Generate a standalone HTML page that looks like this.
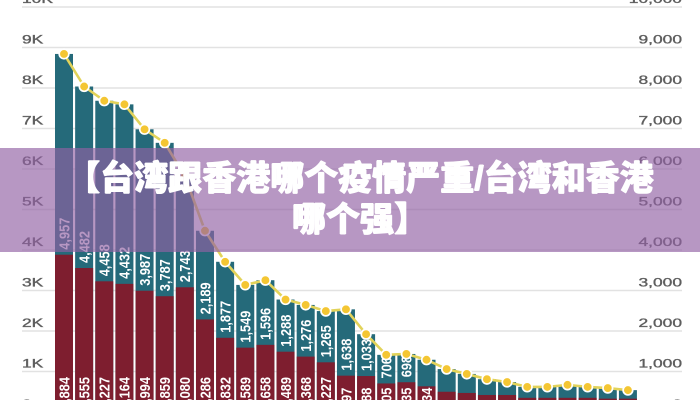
<!DOCTYPE html>
<html>
<head>
<meta charset="utf-8">
<style>
  html,body{margin:0;padding:0;background:#fff;}
  #wrap{position:relative;width:700px;height:400px;overflow:hidden;background:#fff;}
  svg{position:absolute;left:0;top:0;}
  #banner{position:absolute;left:0;top:148px;width:700px;height:104px;background:rgba(146,97,164,0.66);}
  #title{position:absolute;left:20px;right:0;top:148px;height:104px;display:flex;align-items:center;justify-content:center;text-align:center;
    font-family:"Liberation Sans","Noto Sans CJK SC",sans-serif;font-weight:900;font-size:34px;line-height:41px;color:#fff;white-space:nowrap;
    text-shadow:0.6px 0 0 #fff,-0.6px 0 0 #fff,0 0.5px 0 #fff,0 -0.5px 0 #fff;}
</style>
</head>
<body>
<div id="wrap">
<svg width="700" height="400" viewBox="0 0 700 400" xmlns="http://www.w3.org/2000/svg">
  <!-- gridlines -->
  <g stroke="#e2e2e2" stroke-width="1.5">
    <line x1="22" x2="682" y1="7" y2="7"/>
    <line x1="22" x2="682" y1="47.5" y2="47.5"/>
    <line x1="22" x2="682" y1="88" y2="88"/>
    <line x1="22" x2="682" y1="128.5" y2="128.5"/>
    <line x1="22" x2="682" y1="169" y2="169"/>
    <line x1="22" x2="682" y1="209.5" y2="209.5"/>
    <line x1="22" x2="682" y1="250" y2="250"/>
    <line x1="22" x2="682" y1="290.5" y2="290.5"/>
    <line x1="22" x2="682" y1="331" y2="331"/>
    <line x1="22" x2="682" y1="371.5" y2="371.5"/>
    <line x1="22" x2="682" y1="412" y2="412"/>
  </g>
  <!-- left axis labels -->
  <g font-family="Liberation Sans, sans-serif" font-size="12" fill="#5e5e5e" stroke="#5e5e5e" stroke-width="0.35">
    <text transform="translate(22,3) scale(1.45,1)">10K</text>
    <text transform="translate(22,43.5) scale(1.45,1)">9K</text>
    <text transform="translate(22,84) scale(1.45,1)">8K</text>
    <text transform="translate(22,124.5) scale(1.45,1)">7K</text>
    <text transform="translate(22,165) scale(1.45,1)">6K</text>
    <text transform="translate(22,205.5) scale(1.45,1)">5K</text>
    <text transform="translate(22,246) scale(1.45,1)">4K</text>
    <text transform="translate(22,286.5) scale(1.45,1)">3K</text>
    <text transform="translate(22,327) scale(1.45,1)">2K</text>
    <text transform="translate(22,367.5) scale(1.45,1)">1K</text>
    <text transform="translate(22,408) scale(1.45,1)">0</text>
  </g>
  <!-- right axis labels -->
  <g font-family="Liberation Sans, sans-serif" font-size="12" fill="#5e5e5e" stroke="#5e5e5e" stroke-width="0.35" text-anchor="end">
    <text transform="translate(682,3) scale(1.45,1)">10,000</text>
    <text transform="translate(682,43.5) scale(1.45,1)">9,000</text>
    <text transform="translate(682,84) scale(1.45,1)">8,000</text>
    <text transform="translate(682,124.5) scale(1.45,1)">7,000</text>
    <text transform="translate(682,165) scale(1.45,1)">6,000</text>
    <text transform="translate(682,205.5) scale(1.45,1)">5,000</text>
    <text transform="translate(682,246) scale(1.45,1)">4,000</text>
    <text transform="translate(682,286.5) scale(1.45,1)">3,000</text>
    <text transform="translate(682,327) scale(1.45,1)">2,000</text>
    <text transform="translate(682,367.5) scale(1.45,1)">1,000</text>
    <text transform="translate(682,408) scale(1.45,1)">0</text>
  </g>
  <!-- teal (full) bars -->
  <g fill="#256a7a">
    <rect x="55" y="53.94" width="18" height="358.06"/>
    <rect x="75.14" y="86.5" width="18" height="325.5"/>
    <rect x="95.28" y="100.76" width="18" height="311.24"/>
    <rect x="115.42" y="104.36" width="18" height="307.64"/>
    <rect x="135.56" y="129.27" width="18" height="282.73"/>
    <rect x="155.7" y="142.84" width="18" height="269.16"/>
    <rect x="175.84" y="176.17" width="18" height="235.83"/>
    <rect x="195.98" y="230.76" width="18" height="181.24"/>
    <rect x="216.12" y="261.79" width="18" height="150.21"/>
    <rect x="236.26" y="284.91" width="18" height="127.09"/>
    <rect x="256.4" y="280.21" width="18" height="131.79"/>
    <rect x="276.54" y="299.53" width="18" height="112.47"/>
    <rect x="296.68" y="304.92" width="18" height="107.08"/>
    <rect x="316.82" y="311.07" width="18" height="100.93"/>
    <rect x="336.96" y="309.33" width="18" height="102.67"/>
    <rect x="357.1" y="334.2" width="18" height="77.8"/>
    <rect x="377.24" y="354.85" width="18" height="57.15"/>
    <rect x="397.38" y="353.96" width="18" height="58.04"/>
    <rect x="417.52" y="359.75" width="18" height="52.25"/>
    <rect x="437.66" y="369.07" width="18" height="42.93"/>
    <rect x="457.8" y="373.93" width="18" height="38.07"/>
    <rect x="477.94" y="379.19" width="18" height="32.81"/>
    <rect x="498.08" y="382.03" width="18" height="29.97"/>
    <rect x="518.22" y="386.89" width="18" height="25.11"/>
    <rect x="538.36" y="386.89" width="18" height="25.11"/>
    <rect x="558.5" y="384.86" width="18" height="27.14"/>
    <rect x="578.64" y="386.89" width="18" height="25.11"/>
    <rect x="598.78" y="388.1" width="18" height="23.9"/>
    <rect x="618.92" y="390.13" width="18" height="21.87"/>
  </g>
  <!-- red bars -->
  <g fill="#7e1e2f">
    <rect x="55" y="254.7" width="18" height="157.3"/>
    <rect x="75.14" y="268.02" width="18" height="143.98"/>
    <rect x="95.28" y="281.31" width="18" height="130.69"/>
    <rect x="115.42" y="283.86" width="18" height="128.14"/>
    <rect x="135.56" y="290.74" width="18" height="121.26"/>
    <rect x="155.7" y="296.21" width="18" height="115.79"/>
    <rect x="175.84" y="287.26" width="18" height="124.74"/>
    <rect x="195.98" y="319.42" width="18" height="92.58"/>
    <rect x="216.12" y="337.8" width="18" height="74.2"/>
    <rect x="236.26" y="347.65" width="18" height="64.35"/>
    <rect x="256.4" y="344.85" width="18" height="67.15"/>
    <rect x="276.54" y="351.7" width="18" height="60.3"/>
    <rect x="296.68" y="356.6" width="18" height="55.4"/>
    <rect x="316.82" y="362.31" width="18" height="49.69"/>
    <rect x="336.96" y="375.67" width="18" height="36.33"/>
    <rect x="357.1" y="376.04" width="18" height="35.96"/>
    <rect x="377.24" y="383.45" width="18" height="28.55"/>
    <rect x="397.38" y="382.23" width="18" height="29.77"/>
    <rect x="417.52" y="386.32" width="18" height="25.68"/>
    <rect x="437.66" y="391.75" width="18" height="20.25"/>
    <rect x="457.8" y="392.96" width="18" height="19.04"/>
    <rect x="477.94" y="394.99" width="18" height="17.01"/>
    <rect x="498.08" y="394.99" width="18" height="17.01"/>
    <rect x="518.22" y="397.82" width="18" height="14.18"/>
    <rect x="538.36" y="397.82" width="18" height="14.18"/>
    <rect x="558.5" y="397.82" width="18" height="14.18"/>
    <rect x="578.64" y="397.82" width="18" height="14.18"/>
    <rect x="598.78" y="398.63" width="18" height="13.37"/>
    <rect x="618.92" y="398.63" width="18" height="13.37"/>
  </g>
  <!-- teal segment labels -->
  <g fill="#ffffff" font-family="Liberation Sans, sans-serif" font-weight="bold" font-size="12.8">
    <text dy="0.36em" transform="translate(64,249.7) scale(1.15,1) rotate(-90)">4,957</text>
    <text dy="0.36em" transform="translate(84.14,263.02) scale(1.15,1) rotate(-90)">4,482</text>
    <text dy="0.36em" transform="translate(104.28,276.31) scale(1.15,1) rotate(-90)">4,458</text>
    <text dy="0.36em" transform="translate(124.42,278.86) scale(1.15,1) rotate(-90)">4,432</text>
    <text dy="0.36em" transform="translate(144.56,285.74) scale(1.15,1) rotate(-90)">3,987</text>
    <text dy="0.36em" transform="translate(164.7,291.21) scale(1.15,1) rotate(-90)">3,787</text>
    <text dy="0.36em" transform="translate(184.84,282.26) scale(1.15,1) rotate(-90)">2,743</text>
    <text dy="0.36em" transform="translate(204.98,314.42) scale(1.15,1) rotate(-90)">2,189</text>
    <text dy="0.36em" transform="translate(225.12,332.8) scale(1.15,1) rotate(-90)">1,877</text>
    <text dy="0.36em" transform="translate(245.26,342.65) scale(1.15,1) rotate(-90)">1,549</text>
    <text dy="0.36em" transform="translate(265.4,339.85) scale(1.15,1) rotate(-90)">1,596</text>
    <text dy="0.36em" transform="translate(285.54,346.7) scale(1.15,1) rotate(-90)">1,288</text>
    <text dy="0.36em" transform="translate(305.68,351.6) scale(1.15,1) rotate(-90)">1,276</text>
    <text dy="0.36em" transform="translate(325.82,357.31) scale(1.15,1) rotate(-90)">1,265</text>
    <text dy="0.36em" transform="translate(345.96,370.67) scale(1.15,1) rotate(-90)">1,638</text>
    <text dy="0.36em" transform="translate(366.1,371.04) scale(1.15,1) rotate(-90)">1,033</text>
    <text dy="0.36em" transform="translate(386.24,378.45) scale(1.15,1) rotate(-90)">706</text>
    <text dy="0.36em" transform="translate(406.38,377.23) scale(1.15,1) rotate(-90)">698</text>
  </g>
  <!-- red segment labels -->
  <g fill="#ffffff" font-family="Liberation Sans, sans-serif" font-weight="bold" font-size="12.8">
    <text dy="0.36em" transform="translate(64,409) scale(1.15,1) rotate(-90)">3,884</text>
    <text dy="0.36em" transform="translate(84.14,409) scale(1.15,1) rotate(-90)">3,555</text>
    <text dy="0.36em" transform="translate(104.28,409) scale(1.15,1) rotate(-90)">3,227</text>
    <text dy="0.36em" transform="translate(124.42,409) scale(1.15,1) rotate(-90)">3,164</text>
    <text dy="0.36em" transform="translate(144.56,409) scale(1.15,1) rotate(-90)">2,994</text>
    <text dy="0.36em" transform="translate(164.7,409) scale(1.15,1) rotate(-90)">2,859</text>
    <text dy="0.36em" transform="translate(184.84,409) scale(1.15,1) rotate(-90)">3,080</text>
    <text dy="0.36em" transform="translate(204.98,409) scale(1.15,1) rotate(-90)">2,286</text>
    <text dy="0.36em" transform="translate(225.12,409) scale(1.15,1) rotate(-90)">1,832</text>
    <text dy="0.36em" transform="translate(245.26,409) scale(1.15,1) rotate(-90)">1,589</text>
    <text dy="0.36em" transform="translate(265.4,409) scale(1.15,1) rotate(-90)">1,658</text>
    <text dy="0.36em" transform="translate(285.54,409) scale(1.15,1) rotate(-90)">1,489</text>
    <text dy="0.36em" transform="translate(305.68,409) scale(1.15,1) rotate(-90)">1,368</text>
    <text dy="0.36em" transform="translate(325.82,409) scale(1.15,1) rotate(-90)">1,227</text>
    <text dy="0.36em" transform="translate(345.96,409) scale(1.15,1) rotate(-90)">897</text>
    <text dy="0.36em" transform="translate(366.1,409) scale(1.15,1) rotate(-90)">888</text>
    <text dy="0.36em" transform="translate(386.24,409) scale(1.15,1) rotate(-90)">705</text>
    <text dy="0.36em" transform="translate(406.38,409) scale(1.15,1) rotate(-90)">735</text>
    <text dy="0.36em" transform="translate(426.52,409) scale(1.15,1) rotate(-90)">634</text>
  </g>
  <!-- total line -->
  <polyline fill="none" stroke="#e2d35a" stroke-width="2.6" stroke-linejoin="round"
    points="64,53.94 84.14,86.5 104.28,100.76 124.42,104.36 144.56,129.27 164.7,142.84 184.84,176.17 204.98,230.76 225.12,261.79 245.26,284.91 265.4,280.21 285.54,299.53 305.68,304.92 325.82,311.07 345.96,309.33 366.1,334.2 386.24,354.85 406.38,353.96 426.52,359.75 446.66,369.07 466.8,373.93 486.94,379.19 507.08,382.03 527.22,386.89 547.36,386.89 567.5,384.86 587.64,386.89 607.78,388.1 627.92,390.13"/>
  <!-- dots -->
  <g fill="#f4c633" stroke="#ffffff" stroke-width="1.7">
    <circle cx="64" cy="53.94" r="4.8"/>
    <circle cx="84.14" cy="86.5" r="4.8"/>
    <circle cx="104.28" cy="100.76" r="4.8"/>
    <circle cx="124.42" cy="104.36" r="4.8"/>
    <circle cx="144.56" cy="129.27" r="4.8"/>
    <circle cx="164.7" cy="142.84" r="4.8"/>
    <circle cx="184.84" cy="176.17" r="4.8"/>
    <circle cx="204.98" cy="230.76" r="4.8"/>
    <circle cx="225.12" cy="261.79" r="4.8"/>
    <circle cx="245.26" cy="284.91" r="4.8"/>
    <circle cx="265.4" cy="280.21" r="4.8"/>
    <circle cx="285.54" cy="299.53" r="4.8"/>
    <circle cx="305.68" cy="304.92" r="4.8"/>
    <circle cx="325.82" cy="311.07" r="4.8"/>
    <circle cx="345.96" cy="309.33" r="4.8"/>
    <circle cx="366.1" cy="334.2" r="4.8"/>
    <circle cx="386.24" cy="354.85" r="4.8"/>
    <circle cx="406.38" cy="353.96" r="4.8"/>
    <circle cx="426.52" cy="359.75" r="4.8"/>
    <circle cx="446.66" cy="369.07" r="4.8"/>
    <circle cx="466.8" cy="373.93" r="4.8"/>
    <circle cx="486.94" cy="379.19" r="4.8"/>
    <circle cx="507.08" cy="382.03" r="4.8"/>
    <circle cx="527.22" cy="386.89" r="4.8"/>
    <circle cx="547.36" cy="386.89" r="4.8"/>
    <circle cx="567.5" cy="384.86" r="4.8"/>
    <circle cx="587.64" cy="386.89" r="4.8"/>
    <circle cx="607.78" cy="388.1" r="4.8"/>
    <circle cx="627.92" cy="390.13" r="4.8"/>
  </g>
</svg>
<div id="banner"></div>
<div id="title"><div>【台湾跟香港哪个疫情严重/台湾和香港<br>哪个强】</div></div>
</div>
</body>
</html>
